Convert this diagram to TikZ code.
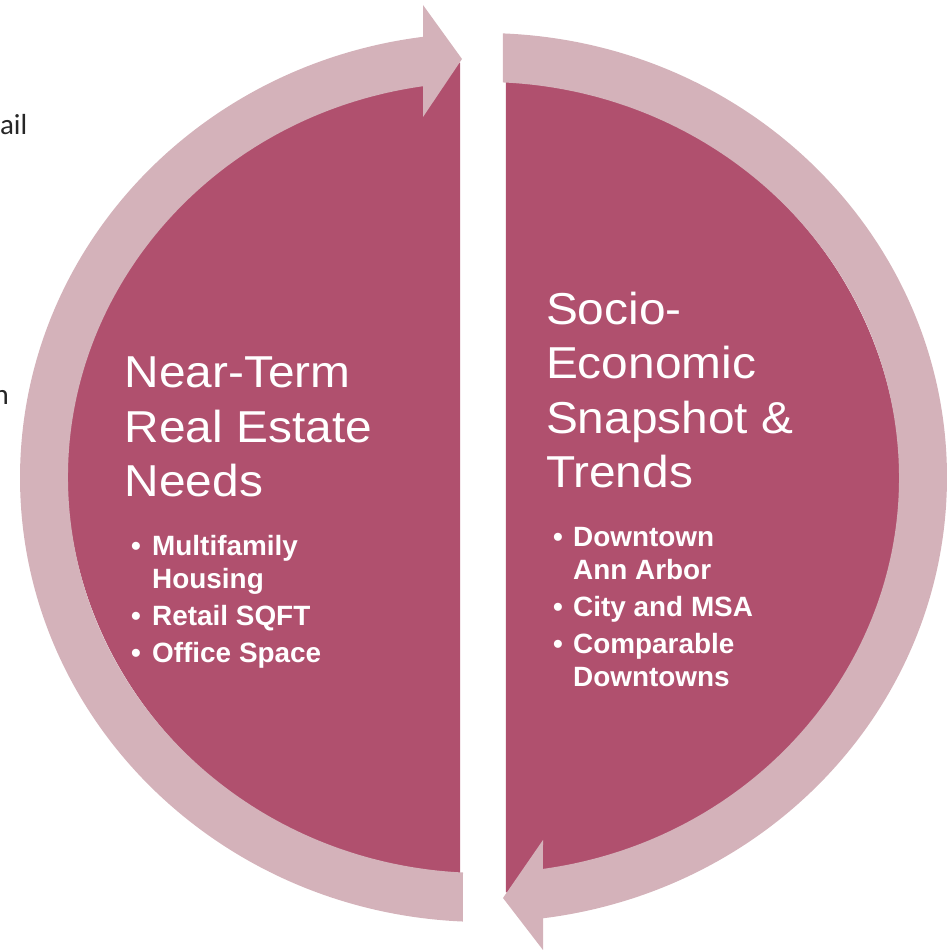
\documentclass[tikz,border=0pt]{standalone}
\usepackage{fontspec}
\setmainfont{Liberation Sans}
\newfontfamily\headfont[FakeStretch=1.07]{Liberation Sans}
\newfontfamily\notefont{Carlito}
\usetikzlibrary{calc}
\definecolor{rosedark}{HTML}{B0506E}
\definecolor{roselight}{HTML}{D4B2BA}

\begin{document}
\begin{tikzpicture}[x=1pt,y=1pt,
    half/.style={fill=rosedark},
    ring/.style={fill=roselight},
    head/.style={anchor=base west,inner sep=0pt,align=left,text=white,
      font=\headfont\fontsize{44.7}{54.5}\selectfont},
    items/.style={anchor=base west,inner sep=0pt,align=left,text=white,
      font=\bfseries\fontsize{27.9}{33}\selectfont},
    stray/.style={anchor=base east,inner sep=0pt,text=black!85,
      font=\notefont\fontsize{29}{34}\selectfont}]
  \useasboundingbox (0,0) rectangle (950,951);
  \coordinate (C) at (483.5,473.5);
  \coordinate (CL) at (483.5,482);
  \coordinate (CR) at (483.5,465);
  % the two halves
  \fill[half] ($(CL)+(93.23:417 and 407)$) arc[start angle=93.23,end angle=266.77,x radius=417,y radius=407] -- cycle;
  \fill[half] ($(CR)+(86.91:417 and 407)$) arc[start angle=86.91,end angle=-86.91,x radius=417,y radius=407] -- cycle;
  % left arrow, up to the top
  \fill[ring] ($(C)+(267.46:463.5 and 444.5)$) arc[start angle=267.46,end angle=97.5,x radius=463.5,y radius=444.5]
    -- (423,946) -- (462,892) -- (423,834)
    -- ($(C)+(98.37:415.5 and 395.5)$) arc[start angle=98.37,end angle=267.17,x radius=415.5,y radius=395.5] -- cycle;
  % right arrow, down to the bottom
  \fill[ring] ($(C)+(87.59:463.5 and 444.5)$) arc[start angle=87.59,end angle=-82.62,x radius=463.5,y radius=444.5]
    -- (543,1) -- (503,53) -- (543,111)
    -- ($(C)+(-81.77:415.5 and 395.5)$) arc[start angle=-81.77,end angle=87.31,x radius=415.5,y radius=395.5] -- cycle;
  % texts (base = last line)
  \node[head] (near) at (124.6,454) {Near-Term\\Real Estate\\Needs};
  \node[items] (nearlist) at (131,288) {\makebox[21pt][l]{•}Multifamily\\\hspace*{21pt}Housing\\[4pt]
    \makebox[21pt][l]{•}Retail SQFT\\[4pt]\makebox[21pt][l]{•}Office Space};
  \node[head] (socio) at (545.8,463) {Socio-\\Economic\\Snapshot \&\\Trends};
  \node[items] (sociolist) at (553,264) {\makebox[20pt][l]{•}Downtown\\\hspace*{20pt}Ann Arbor\\[4pt]
    \makebox[20pt][l]{•}City and MSA\\[4pt]\makebox[20pt][l]{•}Comparable\\\hspace*{20pt}Downtowns};
  \node[stray] (frag1) at (27.5,816) {ail};
  \node[stray] (frag2) at (9,546) {n};
\end{tikzpicture}
\end{document}
